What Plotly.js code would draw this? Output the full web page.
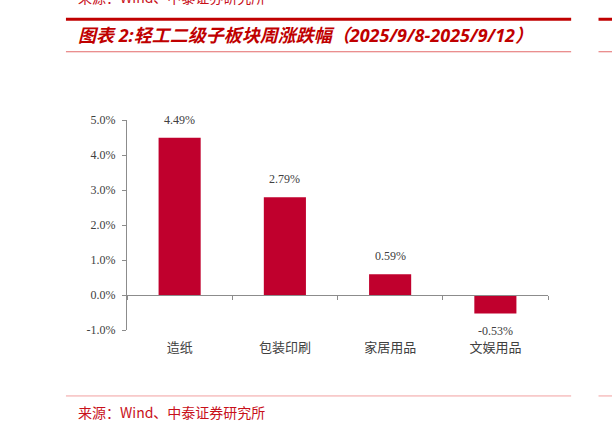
<!DOCTYPE html>
<html>
<head>
<meta charset="utf-8">
<script src="https://cdn.plot.ly/plotly-3.0.1.min.js"></script>
<style>
html,body{margin:0;padding:0;background:#fff;}
#chart{width:612px;height:430px;}
</style>
</head>
<body>
<div id="chart"></div>
<script>
// ---- data ----
const categories = ["造纸", "包装印刷", "家居用品", "文娱用品"];
const changes = [4.49, 2.79, 0.59, -0.53];
const yTickVals = [-1, 0, 1, 2, 3, 4, 5];
const yTickText = ["-1.0%", "0.0%", "1.0%", "2.0%", "3.0%", "4.0%", "5.0%"];
const titleText = "图表 2:轻工二级子板块周涨跌幅（2025/9/8-2025/9/12）";
const sourceText = "来源：Wind、中泰证券研究所";

const barColor = "#C0002D";
const axisColor = "#8C8C8C";
const textColor = "#404040";
const serif = "'Liberation Serif', 'Noto Sans CJK SC', serif";
const cjk = "'Noto Sans CJK SC', 'Liberation Serif', serif";
const sansTitle = "'Noto Sans', 'Noto Sans CJK SC', sans-serif";

const traces = [
  {
    type: "bar",
    x: categories,
    y: changes,
    marker: {color: barColor},
    hoverinfo: "skip",
    xaxis: "x",
    yaxis: "y"
  },
  {
    type: "scatter",
    mode: "markers",
    x: categories,
    y: changes,
    marker: {opacity: 0},
    hoverinfo: "skip",
    showlegend: false,
    xaxis: "x2",
    yaxis: "y"
  }
];

const yMin = -1, yMax = 5;
const zeroPos = (0 - yMin) / (yMax - yMin);

const annotations = categories.map((c, i) => ({
  x: c, y: changes[i], xref: "x", yref: "y",
  text: changes[i].toFixed(2) + "%",
  showarrow: false,
  yanchor: changes[i] >= 0 ? "bottom" : "top",
  yshift: changes[i] >= 0 ? 9 : -8,
  font: {family: serif, size: 12, color: textColor}
}));

annotations.push({
  xref: "paper", yref: "paper", x: -0.12, y: 1.405,
  xanchor: "left", yanchor: "middle",
  text: "<b><i>" + titleText + "</i></b>",
  showarrow: false,
  font: {family: sansTitle, size: 18, color: "#C00000"}
});
annotations.push({
  xref: "paper", yref: "paper", x: -0.12, y: -0.39,
  xanchor: "left", yanchor: "middle",
  text: sourceText,
  showarrow: false,
  font: {family: cjk, size: 14, color: "#C8101A"}
});
annotations.push({
  xref: "paper", yref: "paper", x: -0.12, y: 1.585,
  xanchor: "left", yanchor: "middle",
  text: sourceText,
  showarrow: false,
  font: {family: cjk, size: 14, color: "#C8101A"}
});

const shapes = [
  {type: "line", xref: "paper", yref: "paper", x0: -0.145, x1: 1.055, y0: 1.48, y1: 1.48,
   line: {color: "#C00000", width: 3}},
  {type: "line", xref: "paper", yref: "paper", x0: 1.12, x1: 1.2, y0: 1.48, y1: 1.48,
   line: {color: "#C00000", width: 3}},
  {type: "line", xref: "paper", yref: "paper", x0: -0.145, x1: 1.055, y0: 1.325, y1: 1.325,
   line: {color: "#E36A6A", width: 1}},
  {type: "line", xref: "paper", yref: "paper", x0: 1.12, x1: 1.2, y0: 1.325, y1: 1.325,
   line: {color: "#E36A6A", width: 1}},
  {type: "line", xref: "paper", yref: "paper", x0: -0.145, x1: 1.055, y0: -0.314, y1: -0.314,
   line: {color: "#F2A0A0", width: 1}},
  {type: "line", xref: "paper", yref: "paper", x0: 1.12, x1: 1.2, y0: -0.314, y1: -0.314,
   line: {color: "#F2A0A0", width: 1}}
];

const layout = {
  width: 612, height: 430,
  margin: {l: 127, r: 64, t: 120, b: 100, pad: 0},
  paper_bgcolor: "#fff", plot_bgcolor: "#fff",
  showlegend: false,
  bargap: 0.6,
  xaxis: {
    type: "category",
    categoryarray: categories,
    range: [-0.5, categories.length - 0.5],
    showline: false, showgrid: false, zeroline: false,
    ticks: "",
    ticklabelstandoff: 8,
    tickfont: {family: cjk, size: 13, color: textColor},
    fixedrange: true
  },
  xaxis2: {
    type: "category",
    categoryarray: categories,
    range: [-0.5, categories.length - 0.5],
    overlaying: "x",
    anchor: "free",
    position: zeroPos,
    side: "bottom",
    showline: true, linecolor: axisColor, linewidth: 1,
    showgrid: false, zeroline: false,
    ticks: "outside", tickson: "boundaries", ticklen: 4, tickcolor: axisColor,
    showticklabels: false,
    fixedrange: true
  },
  yaxis: {
    range: [yMin, yMax],
    tickmode: "array", tickvals: yTickVals, ticktext: yTickText,
    showline: true, linecolor: axisColor, linewidth: 1,
    ticks: "outside", ticklen: 4, tickcolor: axisColor,
    ticklabelstandoff: 4,
    showgrid: false, zeroline: false,
    tickfont: {family: serif, size: 12, color: textColor},
    fixedrange: true
  },
  annotations: annotations,
  shapes: shapes
};

Plotly.newPlot("chart", traces, layout, {displayModeBar: false, staticPlot: true});
</script>
</body>
</html>
